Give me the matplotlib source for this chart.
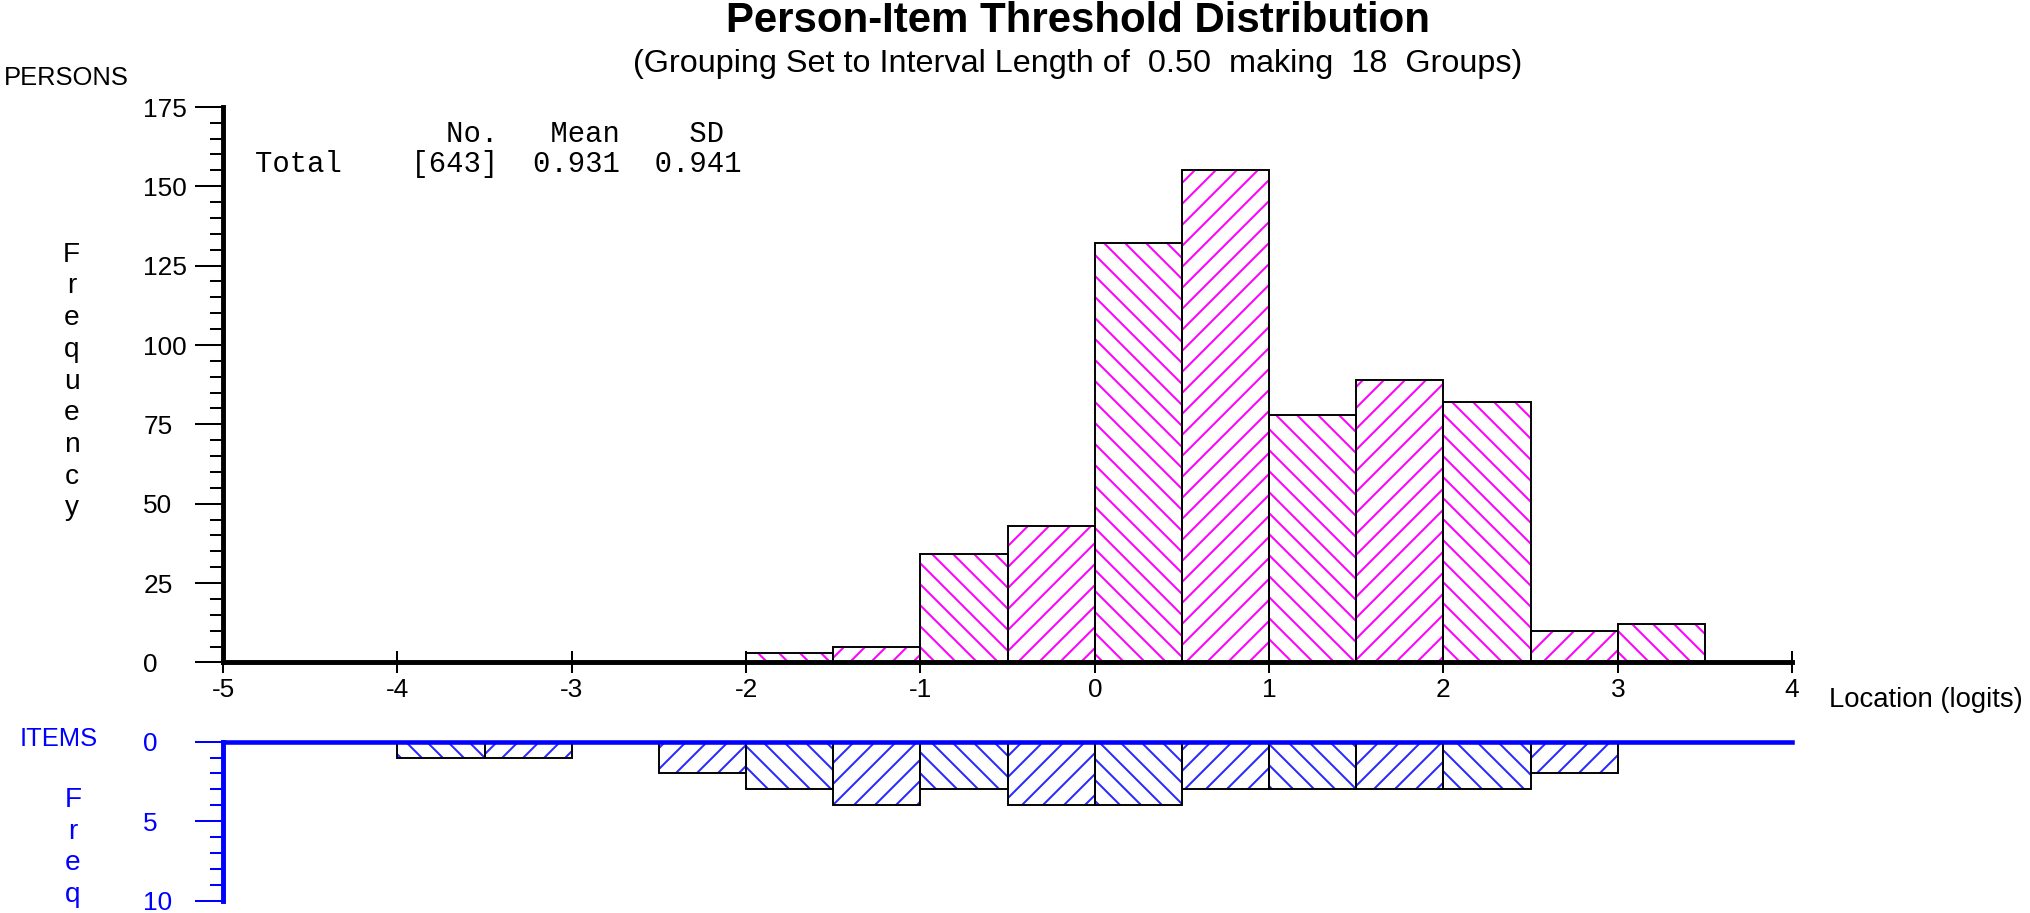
import numpy as np
import matplotlib
matplotlib.use("Agg")
import matplotlib.pyplot as plt
from matplotlib.ticker import MultipleLocator

# Person thresholds (upper panel), 0.5-logit bins given by left edge
person_left = [-2.0, -1.5, -1.0, -0.5, 0.0, 0.5, 1.0, 1.5, 2.0, 2.5, 3.0]
person_count = [3, 5, 34, 43, 132, 155, 78, 89, 82, 10, 12]

# Item thresholds (lower panel)
item_left = [-4.0, -3.5, -2.5, -2.0, -1.5, -1.0, -0.5, 0.0, 0.5, 1.0, 1.5, 2.0, 2.5]
item_count = [1, 1, 2, 3, 4, 3, 4, 4, 3, 3, 3, 3, 2]

bin_width = 0.5
x_ticks = [-5, -4, -3, -2, -1, 0, 1, 2, 3, 4]
person_yticks = [0, 25, 50, 75, 100, 125, 150, 175]
item_yticks = [0, 5, 10]

stats_header = "           No.   Mean    SD"
stats_row = "Total    [643]  0.931  0.941"

W, H = 2030, 913
DPI = 126
plt.rcParams["font.family"] = ["Liberation Sans", "DejaVu Sans"]
plt.rcParams["hatch.linewidth"] = 1.15

MAGENTA = "#FF00FF"
BLUE = "#0000FF"
HATCH_BLUE = "#2a2aff"


def fx(px):
    return px / W


def fy(py):
    return 1 - py / H


def hatches(lefts):
    # alternating hatch: bins starting on a whole logit get "\", half logits get "/"
    return ["\\\\" if float(l).is_integer() else "//" for l in lefts]


fig = plt.figure(figsize=((W + 0.2) / DPI, (H + 0.2) / DPI), dpi=DPI)

# ---------------- upper panel: persons ----------------
ax = fig.add_axes([fx(223), fy(662.5), fx(1792) - fx(223), fy(107) - fy(662.5)])
for l, c, h in zip(person_left, person_count, hatches(person_left)):
    ax.bar(l, c, width=bin_width, align="edge", facecolor="white",
           edgecolor=MAGENTA, linewidth=0, hatch=h, zorder=1)
ax.bar(person_left, person_count, width=bin_width, align="edge", fill=False,
       edgecolor="black", linewidth=1.1, zorder=2)

ax.set_xlim(-5, 4)
ax.set_ylim(0, 175)
ax.spines["top"].set_visible(False)
ax.spines["right"].set_visible(False)
ax.spines["left"].set_linewidth(2.8)
ax.spines["bottom"].set_linewidth(2.8)

ax.set_xticks(x_ticks)
ax.set_xticklabels([str(t) for t in x_ticks])
ax.set_yticks(person_yticks)
ax.set_yticklabels([str(t) for t in person_yticks])
ax.yaxis.set_minor_locator(MultipleLocator(5))
ax.tick_params(axis="x", direction="inout", length=13, width=1.15, pad=2,
               labelsize=15, colors="black")
ax.tick_params(axis="y", which="major", direction="out", length=16, width=1.15,
               pad=29.5, labelsize=15)
ax.tick_params(axis="y", which="minor", direction="out", length=7.5, width=1.15)
plt.setp(ax.get_yticklabels(), ha="left")

# ---------------- lower panel: items ----------------
ax2 = fig.add_axes([fx(223), fy(900.7), fx(1792) - fx(223), fy(741.7) - fy(900.7)])
for l, c, h in zip(item_left, item_count, hatches(item_left)):
    ax2.bar(l, c, width=bin_width, align="edge", facecolor="white",
            edgecolor=HATCH_BLUE, linewidth=0, hatch=h, zorder=1)
ax2.bar(item_left, item_count, width=bin_width, align="edge", fill=False,
        edgecolor="black", linewidth=1.1, zorder=2)

ax2.set_xlim(-5, 4)
ax2.set_ylim(10, 0)
ax2.spines["bottom"].set_visible(False)
ax2.spines["right"].set_visible(False)
ax2.spines["left"].set_linewidth(2.8)
ax2.spines["left"].set_color(BLUE)
ax2.spines["top"].set_linewidth(2.6)
ax2.spines["top"].set_color(BLUE)
ax2.spines["top"].set_zorder(3)
ax2.set_xticks([])
ax2.set_yticks(item_yticks)
ax2.set_yticklabels([str(t) for t in item_yticks])
ax2.yaxis.set_minor_locator(MultipleLocator(1))
ax2.tick_params(axis="y", which="major", direction="out", length=16, width=1.15,
                pad=29.5, labelsize=15, colors=BLUE)
ax2.tick_params(axis="y", which="minor", direction="out", length=7.5, width=1.15,
                colors=BLUE)
plt.setp(ax2.get_yticklabels(), ha="left")

# ---------------- texts ----------------
fig.text(fx(1078), fy(31.7), "Person-Item Threshold Distribution", ha="center",
         va="baseline", fontsize=24, fontweight="bold")
fig.text(fx(1078), fy(71.7),
         "(Grouping Set to Interval Length of  0.50  making  18  Groups)",
         ha="center", va="baseline", fontsize=18.5)
fig.text(fx(4), fy(85), "PERSONS", ha="left", va="baseline", fontsize=14.6)
fig.text(fx(20), fy(745.7), "ITEMS", ha="left", va="baseline", fontsize=14.6,
         color=BLUE)
fig.text(fx(1829), fy(707.3), "Location (logits)", ha="left", va="baseline",
         fontsize=15.7)

fig.text(fx(255), fy(141.7), stats_header, ha="left", va="baseline",
         fontsize=16.5, family="Liberation Mono")
fig.text(fx(255), fy(171.7), stats_row, ha="left", va="baseline",
         fontsize=16.5, family="Liberation Mono")

# stacked axis titles
for i, ch in enumerate("Frequency"):
    fig.text(fx(71.7), fy(261.7 + i * 31.7), ch, ha="center", va="baseline",
             fontsize=16)
for i, ch in enumerate("Freq"):
    fig.text(fx(73), fy(806.7 + i * 31.7), ch, ha="center", va="baseline",
             fontsize=16, color=BLUE)

fig.savefig("out.png", dpi=DPI, facecolor="white")
